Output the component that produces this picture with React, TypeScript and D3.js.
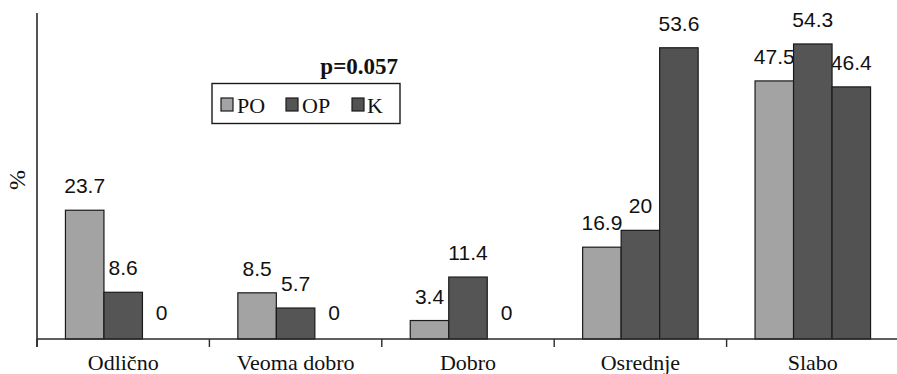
import React from "react";
import * as d3 from "d3";

const categories = ["Odlično", "Veoma dobro", "Dobro", "Osrednje", "Slabo"];
const seriesNames = ["PO", "OP", "K"];
const poValues = [23.7, 8.5, 3.4, 16.9, 47.5];
const opValues = [8.6, 5.7, 11.4, 20, 54.3];
const kValues = [0, 0, 0, 53.6, 46.4];
const seriesColors = ["#a3a3a3", "#555555", "#525252"];
const pValueText = "p=0.057";

const W = 897;
const H = 374;
const margin = { left: 37, right: -2, top: 13, bottom: 35 };

export default function App() {
  const series = [poValues, opValues, kValues];
  const x0 = d3
    .scaleBand<string>()
    .domain(categories)
    .range([margin.left, W - margin.right])
    .paddingInner(0.33)
    .paddingOuter(0.165);
  const band = d3
    .scaleBand<number>()
    .domain(series.map((_, i) => i))
    .range([0, x0.bandwidth()]);
  const y = d3
    .scaleLinear()
    .domain([0, 60])
    .range([H - margin.bottom, margin.top]);
  const baseY = y(0);
  const step = (W - margin.right - margin.left) / categories.length;
  const tickXs = d3.range(categories.length).map((i) => margin.left + i * step);

  const bars = categories.flatMap((c, ci) =>
    series.map((vals, si) => ({
      key: `${c}-${si}`,
      x: (x0(c) ?? 0) + (band(si) ?? 0),
      w: band.bandwidth(),
      v: vals[ci],
      color: seriesColors[si],
    }))
  );

  const legendItems = [
    { name: seriesNames[0], sx: 221, tx: 237 },
    { name: seriesNames[1], sx: 286, tx: 302 },
    { name: seriesNames[2], sx: 352, tx: 367 },
  ];

  const serif = "'Liberation Serif', 'Times New Roman', serif";

  return (
    <svg
      width={W}
      height={H}
      style={{ position: "absolute", left: 0, top: 0, background: "#fff" }}
    >
      {/* value labels sit beneath the bars */}
      {bars.map((b) => (
        <text
          key={`l-${b.key}`}
          x={b.x + b.w / 2}
          y={y(b.v) - (b.v === 0 ? 19 : 17)}
          textAnchor="middle"
          fontFamily="'Liberation Sans', Arial, sans-serif"
          fontSize={21}
          fill="#111"
        >
          {String(b.v)}
        </text>
      ))}
      {bars.map((b) => (
        <rect
          key={b.key}
          x={b.x}
          y={y(b.v)}
          width={b.w}
          height={baseY - y(b.v)}
          fill={b.color}
          stroke="#1a1a1a"
          strokeWidth={1.2}
        />
      ))}
      {/* axes */}
      <line x1={margin.left} x2={margin.left} y1={margin.top} y2={baseY + 8} stroke="#2a2a2a" strokeWidth={1.6} />
      <line x1={margin.left} x2={W} y1={baseY} y2={baseY} stroke="#2a2a2a" strokeWidth={1.6} />
      {tickXs.map((tx, i) => (
        <line key={`t${i}`} x1={tx} x2={tx} y1={baseY} y2={baseY + 8} stroke="#2a2a2a" strokeWidth={1.4} />
      ))}
      {categories.map((c) => (
        <text
          key={`c-${c}`}
          x={(x0(c) ?? 0) + x0.bandwidth() / 2}
          y={370}
          textAnchor="middle"
          fontFamily={serif}
          fontSize={22}
          fill="#111"
        >
          {c}
        </text>
      ))}
      <text
        transform={`translate(25, 180) rotate(-90)`}
        textAnchor="middle"
        fontFamily={serif}
        fontSize={24}
        fill="#111"
      >
        %
      </text>
      {/* legend */}
      <rect x={212} y={83.5} width={188} height={40} fill="#fff" stroke="#1a1a1a" strokeWidth={1.4} />
      {legendItems.map((it, i) => (
        <g key={`lg-${it.name}`}>
          <rect x={it.sx} y={98} width={12} height={13} fill={seriesColors[i]} stroke="#1a1a1a" strokeWidth={1.2} />
          <text x={it.tx} y={113} fontFamily={serif} fontSize={22} fill="#111">
            {it.name}
          </text>
        </g>
      ))}
      <text
        x={398}
        y={74}
        textAnchor="end"
        fontFamily={serif}
        fontWeight="bold"
        fontSize={23}
        fill="#111"
      >
        {pValueText}
      </text>
    </svg>
  );
}
